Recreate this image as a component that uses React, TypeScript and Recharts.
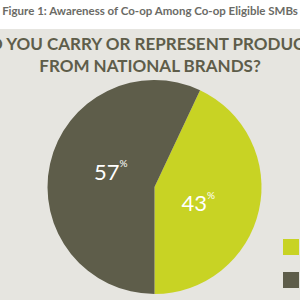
import React from "react";
import { PieChart, Pie, Cell } from "recharts";

const categories = ["Yes", "No"];
const values = [43, 57];
const colors = ["#c8d324", "#5e5d4a"];
const figureTitle = "Figure 1: Awareness of Co-op Among Co-op Eligible SMBs";
const headingLines = ["DO YOU CARRY OR REPRESENT PRODUCTS", "FROM NATIONAL BRANDS?"];

const data = categories.map((name, i) => ({ name, value: values[i] }));

const RAD = Math.PI / 180;

const renderLabel = (props: any) => {
  const { cx, cy, midAngle, outerRadius, value } = props;
  const r = outerRadius * 0.435;
  const a = midAngle - 7.5;
  const x = cx + r * Math.cos(-a * RAD);
  const y = cy + r * Math.sin(-a * RAD);
  return (
    <text
      x={x}
      y={y}
      fill="#ffffff"
      textAnchor="middle"
      dominantBaseline="central"
      fontFamily="Lato"
      fontSize={22}
    >
      {value}
      <tspan fontSize={10} dy={-8}>%</tspan>
    </text>
  );
};

export default function App() {
  return (
    <div
      style={{
        position: "absolute",
        left: 0,
        top: 0,
        width: 300,
        height: 300,
        overflow: "hidden",
        background: "#e6e5e0",
      }}
    >
      <div
        style={{
          position: "absolute",
          left: 0,
          top: 0,
          width: 300,
          height: 29,
          background: "#ffffff",
        }}
      />
      <div
        style={{
          position: "absolute",
          left: 0,
          top: 4,
          width: 300,
          textAlign: "center",
          fontFamily: "Lato",
          fontWeight: 700,
          fontSize: 11.5,
          color: "#6b6b66",
          whiteSpace: "nowrap",
        }}
      >
        {figureTitle}
      </div>
      {headingLines.map((line, i) => (
        <div
          key={i}
          style={{
            position: "absolute",
            left: -100,
            top: 34 + i * 22,
            width: 500,
            textAlign: "center",
            fontFamily: "Lato",
            fontWeight: 700,
            fontSize: 17,
            lineHeight: "20px",
            color: "#5e5d4a",
            whiteSpace: "nowrap",
          }}
        >
          {line}
        </div>
      ))}
      <div style={{ position: "absolute", left: 0, top: 0 }}>
        <PieChart width={300} height={300} margin={{ top: 0, right: 0, bottom: 0, left: 0 }}>
          <Pie
            data={data}
            dataKey="value"
            nameKey="name"
            cx={154.5}
            cy={187}
            outerRadius={107}
            innerRadius={0}
            startAngle={-90}
            endAngle={270}
            stroke="none"
            label={renderLabel}
            labelLine={false}
            isAnimationActive={false}
          >
            {data.map((d, i) => (
              <Cell key={d.name} fill={colors[i]} />
            ))}
          </Pie>
        </PieChart>
      </div>
      <div style={{ position: "absolute", left: 283, top: 239 }}>
        {data.map((d, i) => (
          <div
            key={d.name}
            style={{ display: "flex", alignItems: "center", height: 16, marginBottom: 17, whiteSpace: "nowrap" }}
          >
            <div style={{ width: 16, height: 16, background: colors[i], flexShrink: 0 }} />
            <span style={{ marginLeft: 8, fontFamily: "Lato", fontSize: 13, color: "#5e5d4a" }}>{d.name}</span>
          </div>
        ))}
      </div>
    </div>
  );
}
